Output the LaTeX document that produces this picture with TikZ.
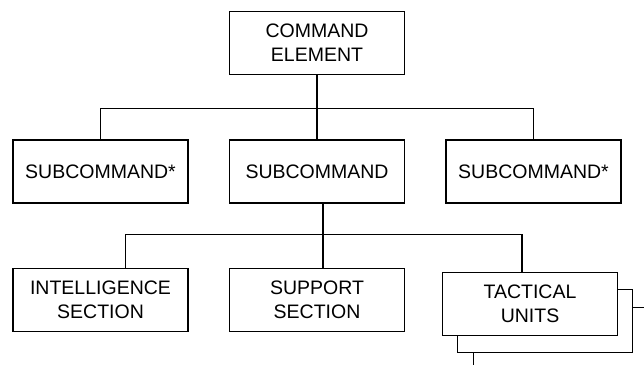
\documentclass[tikz,border=0pt]{standalone}
\usepackage{fontspec}
\setmainfont{Liberation Sans}
\usetikzlibrary{positioning,calc}

\begin{document}
\begin{tikzpicture}[
x=1pt, y=-1pt,
node distance=64pt and 40pt,
caja/.style={rectangle, draw=black, line width=1.5pt, fill=white, minimum width=175pt, minimum height=63pt, align=center, font=\fontsize{19.5}{24}\selectfont},
linea/.style={line width=1.4pt},
]
\clip (0,0) rectangle (644,364);
%Nodes
\node[caja]      (mando)          at (317,43)                {COMMAND\\ELEMENT};
\node[caja]      (submando_2)     [below=of mando]           {SUBCOMMAND};
\node[caja]      (submando_1)     [left=of submando_2]       {SUBCOMMAND*};
\node[caja]      (submando_3)     [right=of submando_2]      {SUBCOMMAND*};

\node[caja]      (apoyo)          [below=of submando_2]      {SUPPORT\\SECTION};
\node[caja]      (inteligencia)   [left=of apoyo]            {INTELLIGENCE\\SECTION};
\coordinate      (pila)           at ($(apoyo)+(213,4)$);
\node[caja]      (tacticas_3)     at ($(pila)+(31,35)$)      {};
\node[caja]      (tacticas_2)     at ($(pila)+(15,17)$)      {};
\node[caja]      (tacticas)       at (pila)                  {TACTICAL\\UNITS};

%Lines
\draw[linea] (mando.south) -- ++(0,33) coordinate (bus_1);
\draw[linea] (submando_1.north) |- (bus_1) -| (submando_3.north);
\draw[linea] (bus_1) -- (submando_2.north);

\draw[linea] ([xshift=6pt]submando_2.south) -- ++(0,31) coordinate (bus_2);
\draw[linea] ([xshift=25pt]inteligencia.north) |- (bus_2) -| ([xshift=-8pt]tacticas.north);
\draw[linea] (bus_2) -- (bus_2 |- apoyo.north);

\end{tikzpicture}
\end{document}
